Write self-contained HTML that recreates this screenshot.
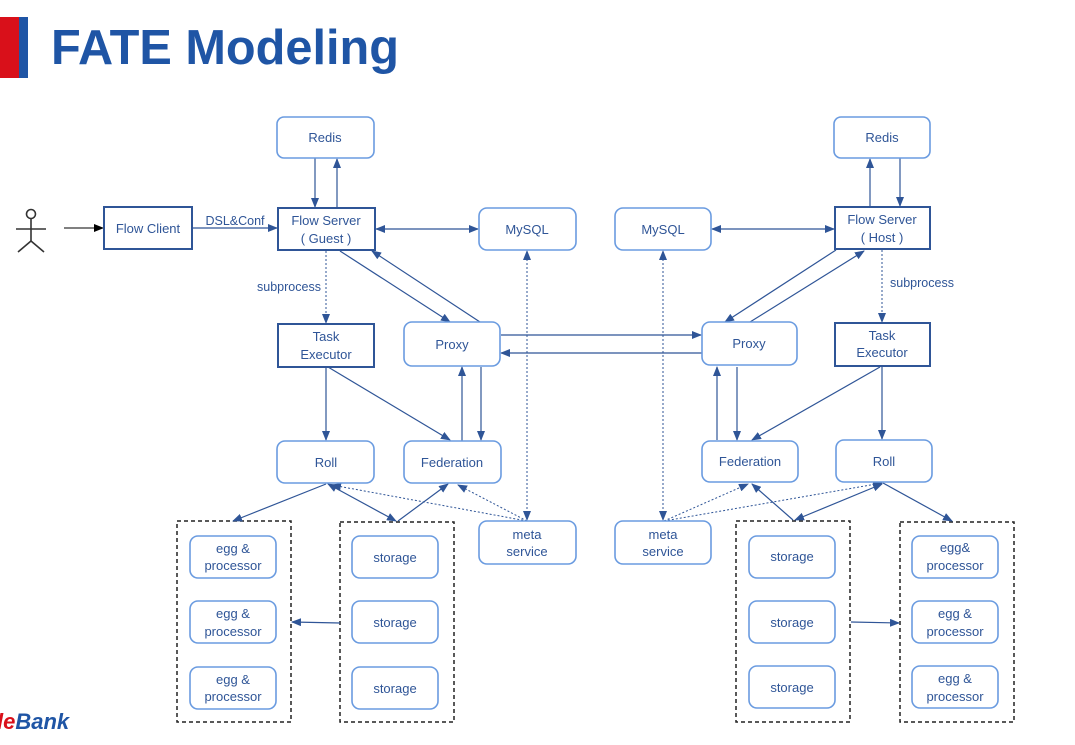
<!DOCTYPE html>
<html><head><meta charset="utf-8"><style>
html,body{margin:0;padding:0;background:#fff;}
svg{display:block;}
text{font-family:"Liberation Sans",sans-serif;}
.t{font-size:13px;fill:#2F5597;text-anchor:middle;}
.r{fill:#fff;stroke:#6A9BE0;stroke-width:1.6;}
.s{fill:#fff;stroke:#2F5597;stroke-width:2;}
.l{stroke:#2F5597;stroke-width:1.2;fill:none;}
.d{stroke:#2F5597;stroke-width:1;fill:none;stroke-dasharray:2,2;}
.c{fill:none;stroke:#222;stroke-width:1.5;stroke-dasharray:4,3;}
</style></head><body>
<svg width="1075" height="745" viewBox="0 0 1075 745" xmlns="http://www.w3.org/2000/svg">
<defs>
<marker id="a" markerWidth="10" markerHeight="8" refX="9" refY="4" orient="auto" markerUnits="userSpaceOnUse"><path d="M0,0 L10,4 L0,8 z" fill="#2F5597"/></marker>
<marker id="b" markerWidth="10" markerHeight="8" refX="1" refY="4" orient="auto" markerUnits="userSpaceOnUse"><path d="M10,0 L0,4 L10,8 z" fill="#2F5597"/></marker>
<marker id="k" markerWidth="10" markerHeight="8" refX="9" refY="4" orient="auto" markerUnits="userSpaceOnUse"><path d="M0,0 L10,4 L0,8 z" fill="#000"/></marker>
</defs>
<rect x="0" y="17" width="19" height="61" fill="#D9101A"/>
<rect x="19" y="17" width="9" height="61" fill="#1F55A5"/>
<text x="51" y="64" style="font-size:49px;font-weight:bold;fill:#1F55A5;" textLength="348" lengthAdjust="spacingAndGlyphs">FATE Modeling</text>
<text x="-3" y="729" style="font-size:22px;font-weight:bold;font-style:italic;"><tspan fill="#D9101A">le</tspan><tspan fill="#1F55A5">Bank</tspan></text>

<!-- person -->
<g stroke="#333" stroke-width="1.6" fill="none">
<circle cx="31" cy="214" r="4.5" fill="#fff"/>
<line x1="31" y1="218.5" x2="31" y2="241"/><line x1="16" y1="229" x2="46" y2="229"/>
<line x1="31" y1="241" x2="18" y2="252"/><line x1="31" y1="241" x2="44" y2="252"/>
</g>
<line x1="64" y1="228" x2="103" y2="228" stroke="#000" stroke-width="1" marker-end="url(#k)"/>

<!-- containers -->
<rect class="c" x="177" y="521" width="114" height="201"/>
<rect class="c" x="340" y="522" width="114" height="200"/>
<rect class="c" x="736" y="521" width="114" height="201"/>
<rect class="c" x="900" y="522" width="114" height="200"/>

<!-- connectors left -->
<line class="l" x1="192" y1="228" x2="277" y2="228" marker-end="url(#a)"/>
<text x="235" y="225" class="t" style="font-size:12.5px">DSL&amp;Conf</text>
<line class="l" x1="315" y1="158" x2="315" y2="207" marker-end="url(#a)"/>
<line class="l" x1="337" y1="207" x2="337" y2="159" marker-end="url(#a)"/>
<line class="l" x1="376" y1="229" x2="478" y2="229" marker-start="url(#b)" marker-end="url(#a)"/>
<line class="d" x1="326" y1="251" x2="326" y2="323" marker-end="url(#a)"/>
<text x="289" y="291" class="t" style="font-size:12.5px">subprocess</text>
<line class="l" x1="340" y1="251" x2="450" y2="322" marker-end="url(#a)"/>
<line class="l" x1="480" y1="322" x2="372" y2="251" marker-end="url(#a)"/>
<line class="l" x1="326" y1="367" x2="326" y2="440" marker-end="url(#a)"/>
<line class="l" x1="328" y1="367" x2="450" y2="440" marker-end="url(#a)"/>
<line class="l" x1="462" y1="441" x2="462" y2="367" marker-end="url(#a)"/>
<line class="l" x1="481" y1="367" x2="481" y2="440" marker-end="url(#a)"/>
<line class="l" x1="501" y1="335" x2="701" y2="335" marker-end="url(#a)"/>
<line class="l" x1="702" y1="353" x2="501" y2="353" marker-end="url(#a)"/>
<line class="d" x1="527" y1="251" x2="527" y2="520" marker-start="url(#b)" marker-end="url(#a)"/>
<line class="l" x1="326" y1="484" x2="233" y2="521" marker-end="url(#a)"/>
<line class="l" x1="328" y1="484" x2="396" y2="521" marker-start="url(#b)" marker-end="url(#a)"/>
<line class="l" x1="398" y1="521" x2="448" y2="484" marker-end="url(#a)"/>
<line class="d" x1="527" y1="521" x2="332" y2="485" marker-end="url(#a)"/>
<line class="d" x1="527" y1="521" x2="458" y2="485" marker-end="url(#a)"/>
<line class="l" x1="340" y1="623" x2="292" y2="622" marker-end="url(#a)"/>

<!-- connectors right -->
<line class="l" x1="870" y1="207" x2="870" y2="159" marker-end="url(#a)"/>
<line class="l" x1="900" y1="158" x2="900" y2="206" marker-end="url(#a)"/>
<line class="l" x1="712" y1="229" x2="834" y2="229" marker-start="url(#b)" marker-end="url(#a)"/>
<line class="d" x1="882" y1="250" x2="882" y2="322" marker-end="url(#a)"/>
<text x="922" y="287" class="t" style="font-size:12.5px">subprocess</text>
<line class="l" x1="836" y1="250" x2="725" y2="322" marker-end="url(#a)"/>
<line class="l" x1="750" y1="322" x2="864" y2="251" marker-end="url(#a)"/>
<line class="l" x1="882" y1="367" x2="882" y2="439" marker-end="url(#a)"/>
<line class="l" x1="880" y1="367" x2="752" y2="440" marker-end="url(#a)"/>
<line class="l" x1="717" y1="440" x2="717" y2="367" marker-end="url(#a)"/>
<line class="l" x1="737" y1="367" x2="737" y2="440" marker-end="url(#a)"/>
<line class="d" x1="663" y1="251" x2="663" y2="520" marker-start="url(#b)" marker-end="url(#a)"/>
<line class="d" x1="664" y1="521" x2="748" y2="484" marker-end="url(#a)"/>
<line class="d" x1="664" y1="521" x2="882" y2="483" marker-end="url(#a)"/>
<line class="l" x1="793" y1="520" x2="752" y2="484" marker-end="url(#a)"/>
<line class="l" x1="795" y1="520" x2="882" y2="484" marker-start="url(#b)" marker-end="url(#a)"/>
<line class="l" x1="883" y1="483" x2="952" y2="521" marker-end="url(#a)"/>
<line class="l" x1="851" y1="622" x2="899" y2="623" marker-end="url(#a)"/>

<!-- boxes -->
<rect class="s" x="104" y="207" width="88" height="42"/><text class="t" x="148" y="233">Flow Client</text>
<rect class="r" x="277" y="117" width="97" height="41" rx="7"/><text class="t" x="325" y="142">Redis</text>
<rect class="s" x="278" y="208" width="97" height="42"/><text class="t" x="326" y="225">Flow Server</text><text class="t" x="326" y="243">( Guest )</text>
<rect class="r" x="479" y="208" width="97" height="42" rx="8"/><text class="t" x="527" y="234">MySQL</text>
<rect class="s" x="278" y="324" width="96" height="43"/><text class="t" x="326" y="341">Task</text><text class="t" x="326" y="359">Executor</text>
<rect class="r" x="404" y="322" width="96" height="44" rx="8"/><text class="t" x="452" y="349">Proxy</text>
<rect class="r" x="277" y="441" width="97" height="42" rx="8"/><text class="t" x="326" y="467">Roll</text>
<rect class="r" x="404" y="441" width="97" height="42" rx="8"/><text class="t" x="452" y="467">Federation</text>
<rect class="r" x="479" y="521" width="97" height="43" rx="8"/><text class="t" x="527" y="539">meta</text><text class="t" x="527" y="556">service</text>

<rect class="r" x="834" y="117" width="96" height="41" rx="7"/><text class="t" x="882" y="142">Redis</text>
<rect class="r" x="615" y="208" width="96" height="42" rx="8"/><text class="t" x="663" y="234">MySQL</text>
<rect class="s" x="835" y="207" width="95" height="42"/><text class="t" x="882" y="224">Flow Server</text><text class="t" x="882" y="242">( Host )</text>
<rect class="r" x="702" y="322" width="95" height="43" rx="8"/><text class="t" x="749" y="348">Proxy</text>
<rect class="s" x="835" y="323" width="95" height="43"/><text class="t" x="882" y="340">Task</text><text class="t" x="882" y="357">Executor</text>
<rect class="r" x="702" y="441" width="96" height="41" rx="8"/><text class="t" x="750" y="466">Federation</text>
<rect class="r" x="836" y="440" width="96" height="42" rx="8"/><text class="t" x="884" y="466">Roll</text>
<rect class="r" x="615" y="521" width="96" height="43" rx="8"/><text class="t" x="663" y="539">meta</text><text class="t" x="663" y="556">service</text>

<g>
<rect class="r" x="190" y="536" width="86" height="42" rx="8"/><text class="t" x="233" y="553">egg &amp;</text><text class="t" x="233" y="570">processor</text>
<rect class="r" x="190" y="601" width="86" height="42" rx="8"/><text class="t" x="233" y="618">egg &amp;</text><text class="t" x="233" y="636">processor</text>
<rect class="r" x="190" y="667" width="86" height="42" rx="8"/><text class="t" x="233" y="684">egg &amp;</text><text class="t" x="233" y="701">processor</text>
<rect class="r" x="352" y="536" width="86" height="42" rx="8"/><text class="t" x="395" y="562">storage</text>
<rect class="r" x="352" y="601" width="86" height="42" rx="8"/><text class="t" x="395" y="627">storage</text>
<rect class="r" x="352" y="667" width="86" height="42" rx="8"/><text class="t" x="395" y="693">storage</text>
<rect class="r" x="749" y="536" width="86" height="42" rx="8"/><text class="t" x="792" y="561">storage</text>
<rect class="r" x="749" y="601" width="86" height="42" rx="8"/><text class="t" x="792" y="627">storage</text>
<rect class="r" x="749" y="666" width="86" height="42" rx="8"/><text class="t" x="792" y="692">storage</text>
<rect class="r" x="912" y="536" width="86" height="42" rx="8"/><text class="t" x="955" y="552">egg&amp;</text><text class="t" x="955" y="570">processor</text>
<rect class="r" x="912" y="601" width="86" height="42" rx="8"/><text class="t" x="955" y="618">egg &amp;</text><text class="t" x="955" y="636">processor</text>
<rect class="r" x="912" y="666" width="86" height="42" rx="8"/><text class="t" x="955" y="683">egg &amp;</text><text class="t" x="955" y="701">processor</text>
</g>
</svg>
</body></html>
